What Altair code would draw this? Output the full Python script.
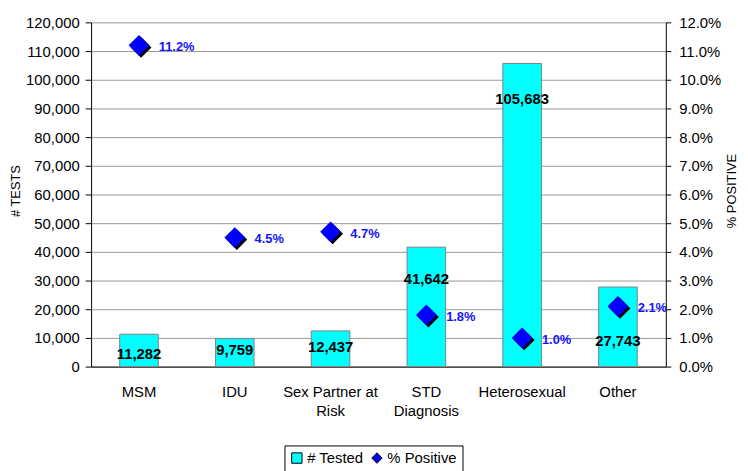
import altair as alt
import pandas as pd

categories = ["MSM", "IDU", "Sex Partner at\nRisk", "STD\nDiagnosis", "Heterosexual", "Other"]
tested = [11282, 9759, 12437, 41642, 105683, 27743]
pct_positive = [0.112, 0.045, 0.047, 0.018, 0.010, 0.021]
series_names = ["# Tested", "% Positive"]
left_ticks = list(range(0, 120001, 10000))
right_ticks = [i / 100 for i in range(0, 13)]

# label placement (pixels below bar top), layout only
label_offsets = [20, 12, 16, 32, 36, 55]

PLOT_W = 581
PLOT_H = 348
Y_MAX = 120000

bars_df = pd.DataFrame({
    "cat": categories,
    "tested": tested,
    "series": series_names[0],
    "off": label_offsets,
})
pct_df = pd.DataFrame({
    "cat": categories,
    "pct": pct_positive,
    "series": series_names[1],
})

FONT = "Liberation Sans"

x_enc = alt.X(
    "cat:N",
    sort=categories,
    title=None,
    scale=alt.Scale(paddingInner=0, paddingOuter=0),
    axis=alt.Axis(
        labelAngle=0,
        labelFontSize=15,
        labelFont=FONT,
        labelColor="black",
        labelPadding=18,
        labelLineHeight=19,
        labelExpr="split(datum.label, '\\n')",
        ticks=False,
        tickSize=0,
        domainColor="black",
        grid=False,
    ),
)

left_axis = alt.Axis(
    values=left_ticks,
    format=",.0f",
    labelFontSize=15,
    labelFont=FONT,
    labelColor="black",
    tickSize=6,
    tickColor="black",
    labelPadding=6,
    domainColor="black",
    grid=True,
    gridColor="#999999",
    title="# TESTS",
    titleFont=FONT,
    titleFontSize=13,
    titleFontWeight="normal",
    titleColor="black",
    titleAngle=270,
    titleX=-76,
    titleY=170,
    titleAlign="center",
    titleBaseline="middle",
)
right_axis = alt.Axis(
    orient="right",
    values=right_ticks,
    format=".1%",
    labelFontSize=15,
    labelFont=FONT,
    labelColor="black",
    tickSize=5,
    tickColor="black",
    labelPadding=8,
    domainColor="black",
    grid=False,
    title="% POSITIVE",
    titleFont=FONT,
    titleFontSize=13,
    titleFontWeight="normal",
    titleColor="black",
    titleAngle=270,
    titleX=66,
    titleY=170,
    titleAlign="center",
    titleBaseline="middle",
)

y_scale_left = alt.Scale(domain=[0, Y_MAX], nice=False)
y_scale_right = alt.Scale(domain=[0, 0.12], nice=False)
y_left = alt.Y("tested:Q", scale=y_scale_left, axis=left_axis)
y_label = alt.Y("label_y:Q", scale=y_scale_left, axis=left_axis)
y_right = alt.Y("pct:Q", scale=y_scale_right, axis=right_axis)

legend_def = alt.Legend(
    title=None,
    orient="none",
    legendX=195.5,
    legendY=427.7,
    direction="horizontal",
    strokeColor="black",
    fillColor="white",
    padding=5,
    labelFontSize=15,
    labelFont=FONT,
    labelColor="black",
    symbolSize=110,
    symbolStrokeColor="black",
    symbolStrokeWidth=1,
    columnPadding=6,
    labelOffset=3,
)
color_enc = alt.Color(
    "series:N",
    scale=alt.Scale(domain=series_names, range=["#00FFFF", "#0000FF"]),
    legend=legend_def,
)
shape_enc = alt.Shape(
    "series:N",
    scale=alt.Scale(domain=series_names, range=["square", "diamond"]),
    legend=legend_def,
)

bars = alt.Chart(bars_df).mark_bar(size=39, stroke="#808080", strokeWidth=1).encode(
    x=x_enc, y=y_left, color=color_enc
)
bar_labels = alt.Chart(bars_df).transform_calculate(
    label_y=f"datum.tested - datum.off * {Y_MAX} / {PLOT_H}"
).mark_text(
    font=FONT, fontSize=15, fontWeight="bold", color="black", baseline="middle", align="center"
).encode(
    x=x_enc,
    y=y_label,
    text=alt.Text("tested:Q", format=","),
)
left = alt.layer(bars, bar_labels)

# drop shadow: diamond path shifted ~2px down-right
SHADOW_PATH = "M-0.8,0.2L0.2,-0.8L1.2,0.2L0.2,1.2Z"
shadow = alt.Chart(pct_df).mark_point(
    shape=SHADOW_PATH, filled=True, size=440, color="black", opacity=1
).encode(x=x_enc, y=y_right)
diamonds = alt.Chart(pct_df).mark_point(filled=True, size=440, opacity=1).encode(
    x=x_enc, y=y_right, color=color_enc, shape=shape_enc
)
pct_labels = alt.Chart(pct_df).mark_text(
    font=FONT, fontSize=13, fontWeight="bold", color="#1414ff",
    align="left", baseline="middle", dx=20, dy=2
).encode(
    x=x_enc, y=y_right, text=alt.Text("pct:Q", format=".1%")
)
right = alt.layer(shadow, diamonds, pct_labels)

chart = (
    alt.layer(left, right)
    .resolve_scale(y="independent")
    .properties(
        width=PLOT_W,
        height=PLOT_H,
        autosize=alt.AutoSizeParams(type="none"),
        padding={"left": 84, "top": 12, "right": 75, "bottom": 103},
        background="white",
    )
    .configure_view(stroke=None)
)

chart.save("out.html", embed_options={"renderer": "svg", "actions": False})
